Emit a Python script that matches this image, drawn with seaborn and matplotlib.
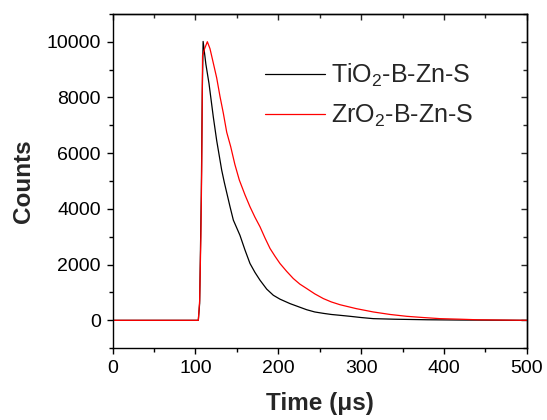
import matplotlib
matplotlib.use("Agg")
import matplotlib.pyplot as plt
from matplotlib.ticker import MultipleLocator
import seaborn as sns
import pandas as pd

# Data
ti_time = [0, 103.4, 105, 107, 108.2, 109.2, 112.5, 116.3, 121.5, 125.6, 131.6, 134.8,
           141.7, 145.7, 153.7, 159.8, 165.8, 171.8, 177.9, 186, 194, 202, 214.1, 226,
           234.3, 244, 254.4, 264, 274.5, 286.6, 300, 314.7, 340, 380, 420, 460, 500]
ti_counts = [0, 0, 600, 4500, 8200, 10010, 9200, 8500, 7300, 6450, 5396, 4950,
             4076, 3597, 3050, 2520, 2040, 1720, 1440, 1120, 899, 760, 600, 470,
             380, 300, 250, 210, 180, 144, 100, 60, 40, 20, 10, 5, 0]

zr_time = [0, 103.4, 105, 106.5, 107.5, 108.5, 111, 114.3, 117.5, 121.5, 125.6, 129.6,
           133.6, 137.7, 142.5, 147.5, 152.9, 159.8, 165.8, 171.8, 177.9, 184, 190, 196,
           202, 210, 218.1, 226, 234.3, 244, 254.4, 264, 274.5, 294, 314.7, 335, 355,
           375, 395.3, 420, 440, 470, 500]
zr_counts = [0, 0, 700, 3000, 5400, 9500, 9750, 10000, 9750, 9234, 8700, 8033,
             7435, 6750, 6234, 5600, 5036, 4500, 4076, 3700, 3357, 2950, 2579, 2300,
             2040, 1760, 1500, 1300, 1140, 950, 780, 660, 560, 420, 300, 210, 144,
             100, 60, 40, 20, 10, 0]

labels = ["TiO$_2$-B-Zn-S", "ZrO$_2$-B-Zn-S"]
colors = ["black", "red"]

x_ticks = [0, 100, 200, 300, 400, 500]
y_ticks = [0, 2000, 4000, 6000, 8000, 10000]

sns.set_style("ticks")
plt.rcParams["font.family"] = ["Liberation Sans", "DejaVu Sans"]
plt.rcParams["mathtext.default"] = "regular"

df = pd.concat([
    pd.DataFrame({"t": ti_time, "c": ti_counts, "s": labels[0]}),
    pd.DataFrame({"t": zr_time, "c": zr_counts, "s": labels[1]}),
])

fig = plt.figure(figsize=(5.47, 4.20), dpi=100)
ax = fig.add_axes([0.206, 0.171, 0.757, 0.796])

sns.lineplot(data=df, x="t", y="c", hue="s", palette=colors, ax=ax,
             linewidth=0.9, estimator=None, sort=False)

ax.set_xlim(0, 500)
ax.set_ylim(-1000, 11000)
ax.set_xticks(x_ticks)
ax.set_yticks(y_ticks)
ax.xaxis.set_minor_locator(MultipleLocator(50))
ax.yaxis.set_minor_locator(MultipleLocator(1000))

ax.tick_params(which="both", direction="out", width=1.0, labelsize=14, colors="black",
               top=False, right=False, pad=4)
ax.tick_params(which="major", length=4.5)
ax.tick_params(which="minor", length=2.7)

secx = ax.secondary_xaxis("top")
secx.set_xticks(x_ticks)
secx.xaxis.set_minor_locator(MultipleLocator(50))
secx.tick_params(which="both", direction="in", labeltop=False, width=1.0)
secx.tick_params(which="major", length=4.5)
secx.tick_params(which="minor", length=2.7)
secy = ax.secondary_yaxis("right")
secy.set_yticks(y_ticks)
secy.yaxis.set_minor_locator(MultipleLocator(1000))
secy.tick_params(which="both", direction="in", labelright=False, width=1.0)
secy.tick_params(which="major", length=4.5)
secy.tick_params(which="minor", length=2.7)

for sp in ax.spines.values():
    sp.set_linewidth(1.0)
    sp.set_color("black")
secx.spines["top"].set_linewidth(1.0)
secy.spines["right"].set_linewidth(1.0)

ax.set_xlabel("Time (μs)", fontsize=17.5, fontweight="bold", labelpad=11)
ax.set_ylabel("Counts", fontsize=17.5, fontweight="bold", labelpad=8)

leg = ax.legend(loc="center left", bbox_to_anchor=(0.368, 0.756), frameon=False,
                fontsize=18, handlelength=2.4, labelspacing=0.55, handletextpad=0.25,
                borderaxespad=0, borderpad=0)

fig.savefig("out.png", dpi=100)
